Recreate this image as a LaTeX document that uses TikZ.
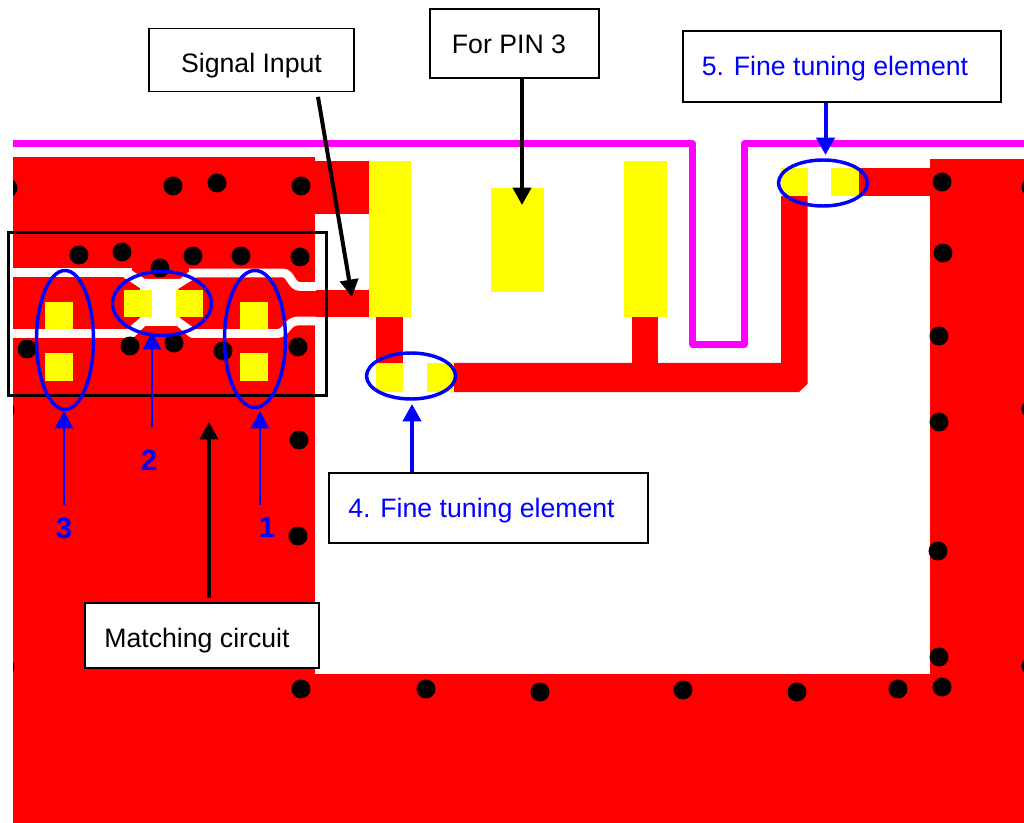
\documentclass[tikz,border=0pt]{standalone}
\usepackage{fontspec}
\setmainfont{Liberation Sans}
\usepackage{tikz}
\usetikzlibrary{arrows.meta, shapes.geometric}
\definecolor{padyellow}{RGB}{255,255,0}
\definecolor{linemagenta}{RGB}{255,0,255}
\definecolor{planered}{RGB}{255,0,0}
\definecolor{markblue}{RGB}{0,0,255}

\begin{document}
\begin{tikzpicture}[
    x=0.75pt, y=-0.75pt,
    notebox/.style 2 args={
      rectangle,
      draw,
      fill=white,
      line width=1.3pt,
      inner sep=0pt,
      text depth=0pt,
      minimum width=#1,
      minimum height=#2,
      font=\fontsize{20}{24}\selectfont
    },
    ring/.style 2 args={
      ellipse,
      draw=markblue,
      line width=2.6pt,
      inner sep=0pt,
      minimum width=#1,
      minimum height=#2
    },
    numlabel/.style={
      text=markblue,
      inner xsep=0pt,
      font=\fontsize{22}{24}\selectfont\bfseries
    },
    pad/.style={fill=padyellow},
    plane/.style={fill=planered},
    gap/.style={draw=white, line width=6.6pt},
    thickarrow/.style={line width=3pt, -{Triangle[width=13.5pt,length=13pt]}},
    thinarrow/.style={draw=markblue, fill=markblue, line width=1.7pt, -{Triangle[width=13.5pt,length=13pt]}}
  ]
    \useasboundingbox (0,0) rectangle (1024,823);
    \clip (0,0) rectangle (1024,823);

    % Ground plane and traces
    \fill[plane] (13,157) rectangle (315,823);
    \fill[plane] (13,674) rectangle (1024,823);
    \fill[plane] (930,159) rectangle (1024,823);
    \fill[plane] (315,161) rectangle (369,214);
    \fill[plane] (295,290) rectangle (369,317);
    \fill[plane] (376,317) rectangle (403,363);
    \fill[plane] (632,317) rectangle (658,363);
    \fill[plane] (859,168) rectangle (930,196);
    \fill[plane] (781,196) -- (807.5,196) -- (807.5,384) -- (799,392)
      -- (453.6,392) -- (453.6,363) -- (781,363) -- cycle;

    % Clearance around the matching line
    \draw[gap] (13,272.5) -- (132,272.5);
    \draw[gap] (189,273) -- (283,273)
      .. controls (291,273) and (291,286.5) .. (300,286.5) -- (316,286.5);
    \draw[gap] (13,333.5) -- (134,333.5);
    \draw[gap] (191,333.5) -- (277,333.5)
      .. controls (287,333.5) and (287,321) .. (298,321) -- (316,321);
    \fill[white] (128,268) -- (145,279) -- (180,279) -- (192,269) -- (197,277)
      -- (178,289) -- (180,318) -- (198,331) -- (190,337.5) -- (177,326)
      -- (145,326) -- (133,338) -- (127,329) -- (140,318) -- (140,288)
      -- (123,277) -- cycle;

    % Vias
    \begin{scope}
      \clip (13,0) rectangle (1024,823);
      \fill (8,188) circle (7.1pt) (5,410) circle (7.1pt) (5,667) circle (7.1pt);
    \end{scope}
    \fill (173,186) circle (7.1pt) (217,183) circle (7.1pt) (301,186) circle (7.1pt);
    \fill (79,255) circle (7.1pt) (122,252) circle (7.1pt) (160,268) circle (7.1pt)
      (193,256) circle (7.1pt) (241,256) circle (7.1pt) (300,257) circle (7.1pt);
    \fill (27,349) circle (7.1pt) (130,346) circle (7.1pt) (174,343) circle (7.1pt)
      (223,351) circle (7.1pt) (298,347) circle (7.1pt);
    \fill (299,440) circle (7.1pt) (298,536) circle (7.1pt);
    \fill (301,689) circle (7.1pt) (426,689) circle (7.1pt) (540,692) circle (7.1pt)
      (683,690) circle (7.1pt) (797,692) circle (7.1pt) (898,689) circle (7.1pt);
    \fill (942,182) circle (7.1pt) (943,253) circle (7.1pt) (939,336) circle (7.1pt)
      (939,422) circle (7.1pt) (938,551) circle (7.1pt) (939,657) circle (7.1pt)
      (942,687) circle (7.1pt);
    \fill (1031,187) circle (7.1pt) (1031,409) circle (7.1pt) (1031,666) circle (7.1pt);

    % Yellow pads
    \fill[pad] (369,161) rectangle (411,317);
    \fill[pad] (491,188) rectangle (544,292);
    \fill[pad] (624,161) rectangle (667,317);
    \fill[pad] (376,363) rectangle (403,392);
    \fill[pad] (427,363) rectangle (453.6,392);
    \fill[pad] (781,168) rectangle (807.5,196);
    \fill[pad] (831,168) rectangle (859,196);
    \fill[pad] (45,302) rectangle (73,329);
    \fill[pad] (45,353) rectangle (73,381);
    \fill[pad] (240,302) rectangle (268,329);
    \fill[pad] (240,353) rectangle (268,381);
    \fill[pad] (124,290) rectangle (152,317);
    \fill[pad] (176,290) rectangle (203,317);

    % Antenna line and frame
    \draw[linemagenta, line width=4.9pt, line join=round] (13,143.7) -- (692.5,143.7) -- (692.5,344.5)
      -- (744.5,344.5) -- (744.5,143.7) -- (1024,143.7);
    \draw[line width=2.25pt] (8.5,233) rectangle (326,395);

    % Rings
    \node (ringthree) [ring={42.75pt}{104.25pt}] at (65,340) {};
    \node (ringone)   [ring={45.75pt}{102.75pt}] at (255,339) {};
    \node (ringtwo)   [ring={74.25pt}{48pt}] at (162,303.5) {};
    \node (ringfour)  [ring={66.75pt}{34.5pt}] at (411,376) {};
    \node (ringfive)  [ring={66.75pt}{34.5pt}] at (823,183) {};

    % Notes
    \node (sigbox)   [notebox={153.75pt}{47.25pt}, text height=19.5pt] at (251.5,60) {Signal Input};
    \node (pinbox)   [notebox={126.75pt}{51.75pt}, text height=15.75pt] at (514.5,43.5) {For PIN 3\hspace*{8.25pt}};
    \node (fivebox)  [notebox={238.5pt}{53.25pt}, text height=14.25pt, text=markblue] at (842,66.5) {5. Fine tuning element\hspace*{10.5pt}};
    \node (fourbox)  [notebox={239.25pt}{52.5pt}, text height=13.5pt, text=markblue] at (488.5,508) {4. Fine tuning element\hspace*{10.5pt}};
    \node (matchbox) [notebox={175.5pt}{48.75pt}, text height=17.25pt] at (202,635.5) {Matching circuit\hspace*{7.5pt}};

    % Numbers
    \node (numthree) [numlabel, inner ysep=9pt] at (64,528) {3};
    \node (numtwo)   [numlabel, inner ysep=17pt] at (149,460.5) {2};
    \node (numone)   [numlabel, inner ysep=9pt] at (267,527) {1};

    % Arrow tips
    \coordinate (tipsig) at (352,297);
    \coordinate (tippin) at (522,205);
    \coordinate (tipmatch) at (209,422);
    \coordinate (tipfive) at (825.5,155);
    \coordinate (tipfour) at (412,404);
    \coordinate (tipthree) at (64,411);
    \coordinate (tiptwo) at (152,332);
    \coordinate (tipone) at (260,411);

    % Edges
    \draw[thickarrow] ([shift={(66.5,4.5)}]sigbox.south) -- (tipsig);
    \draw[thickarrow] (pinbox.south -| tippin) -- (tippin);
    \draw[thickarrow] ([yshift=3pt]matchbox.north -| tipmatch) -- (tipmatch);
    \draw[thickarrow, draw=markblue, fill=markblue] (fivebox.south -| tipfive) -- (tipfive);
    \draw[thickarrow, draw=markblue, fill=markblue] (fourbox.north -| tipfour) -- (tipfour);
    \draw[thinarrow] (numthree.north -| tipthree) -- (tipthree);
    \draw[thinarrow] (numtwo.north -| tiptwo) -- (tiptwo);
    \draw[thinarrow] (numone.north -| tipone) -- (tipone);

  \end{tikzpicture}
\end{document}
